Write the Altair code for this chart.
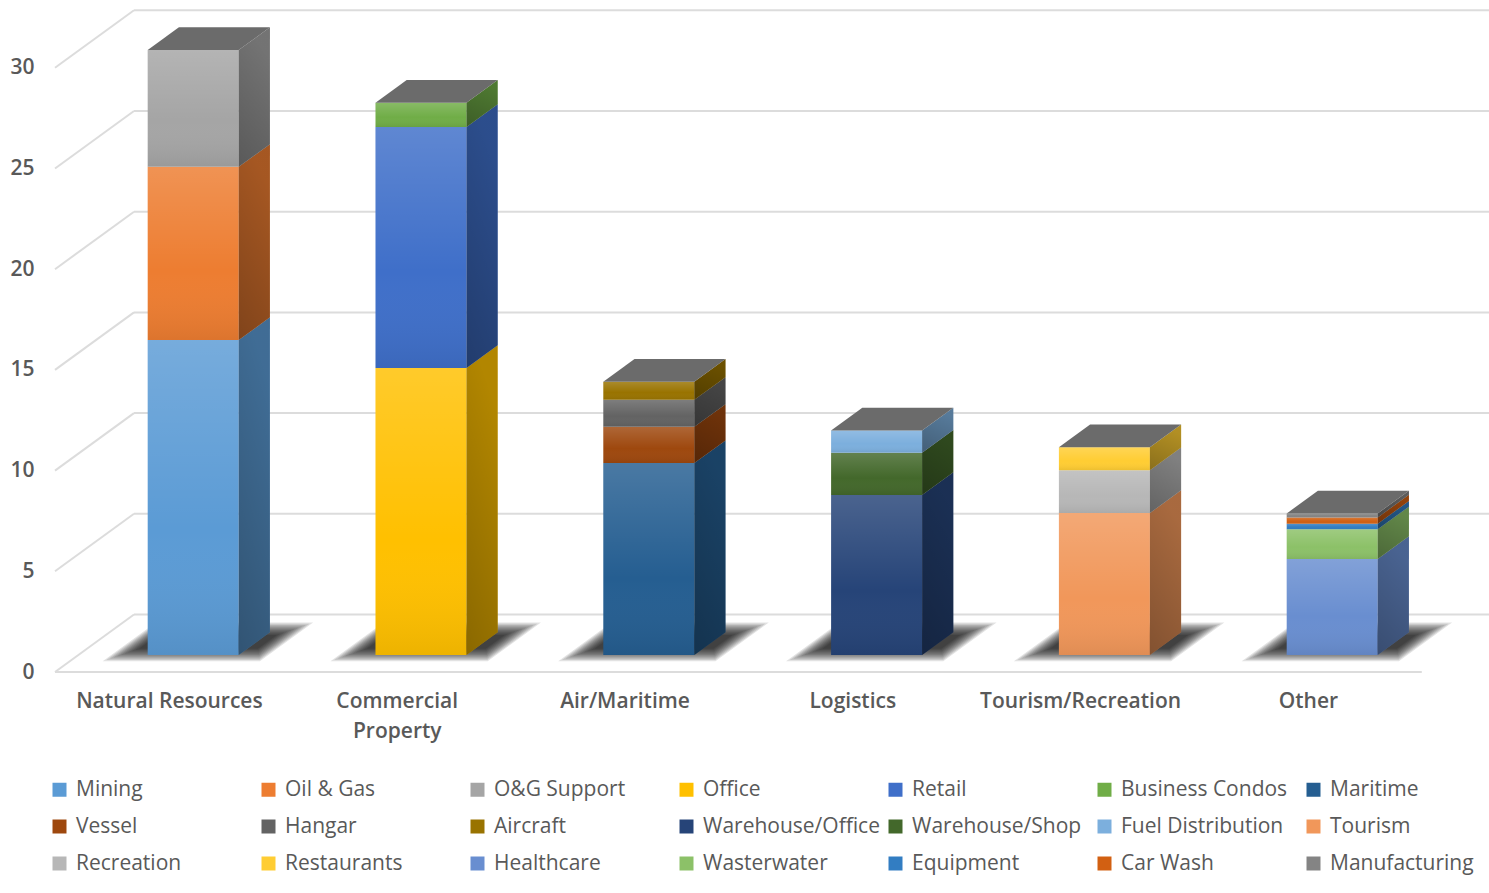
import altair as alt
import pandas as pd

categories = ["Natural Resources", "Commercial\nProperty", "Air/Maritime",
              "Logistics", "Tourism/Recreation", "Other"]

series_names = ["Mining", "Oil & Gas", "O&G Support", "Office", "Retail", "Business Condos",
                "Maritime", "Vessel", "Hangar", "Aircraft", "Warehouse/Office", "Warehouse/Shop",
                "Fuel Distribution", "Tourism", "Recreation", "Restaurants", "Healthcare",
                "Wasterwater", "Equipment", "Car Wash", "Manufacturing"]

series_colors = ["#5B9BD5", "#ED7D31", "#A5A5A5", "#FFC000", "#3F6FC9", "#70AD47",
                 "#255E91", "#9E480E", "#636363", "#997300", "#264478", "#43682B",
                 "#7CAFDD", "#F1975A", "#B7B7B7", "#FFCD33", "#698ED0",
                 "#8CC168", "#327DC2", "#D26012", "#848484"]

natural_resources = [("Mining", 15.64), ("Oil & Gas", 8.6), ("O&G Support", 5.8)]
commercial_property = [("Office", 14.25), ("Retail", 11.97), ("Business Condos", 1.2)]
air_maritime = [("Maritime", 9.53), ("Vessel", 1.8), ("Hangar", 1.34), ("Aircraft", 0.9)]
logistics = [("Warehouse/Office", 7.95), ("Warehouse/Shop", 2.1), ("Fuel Distribution", 1.1)]
tourism_recreation = [("Tourism", 7.05), ("Recreation", 2.13), ("Restaurants", 1.14)]
other = [("Healthcare", 4.77), ("Wasterwater", 1.47), ("Equipment", 0.28),
         ("Car Wash", 0.31), ("Manufacturing", 0.2)]
stacks = [natural_resources, commercial_property, air_maritime, logistics, tourism_recreation, other]

grid_values = [0, 5, 10, 15, 20, 25, 30]

# Pixel geometry of the plot and of the oblique projection used for the 3D look.
PLOT_W, PLOT_H = 1434, 672
PX_CAT, PX_VAL = 227.8, 20.14
DEPTH_X, DEPTH_Y = 79 / PX_CAT, 57.5 / PX_VAL
BAR_W = 91 / PX_CAT
BAR_LEFT = (1 - BAR_W) / 2 + 1 / PX_CAT
D_FRONT, D_BACK = 0.295, 0.69


def px(x, value, depth):
    return x + depth * DEPTH_X, value + depth * DEPTH_Y


front, side, top = [], [], []
for c, stack in enumerate(stacks):
    left = c + BAR_LEFT
    base = 0.0
    for name, value in stack:
        end = base + value
        x0, y0 = px(left + BAR_W, base, D_FRONT)
        x1, y1 = px(left + BAR_W, end, D_FRONT)
        bx, by0 = px(left + BAR_W, base, D_BACK)
        _, by1 = px(left + BAR_W, end, D_BACK)
        lx, _ = px(left, 0, D_FRONT)
        front.append(dict(series=name, x=lx, x2=x0, y=y0, y2=y1))
        key = f"{c}-{name}"
        side.append(dict(series=name, key=key, x=x0, y=y0, y2=y1))
        side.append(dict(series=name, key=key, x=bx, y=by0, y2=by1))
        base = end
    fx, fy = px(left, base, D_FRONT)
    bx, by = px(left, base, D_BACK)
    top.append(dict(key=c, y=fy, x=fx, x2=fx + BAR_W))
    top.append(dict(key=c, y=by, x=bx, x2=bx + BAR_W))

# Soft floor shadow: nested parallelograms at low opacity build up a fuzzy edge.
shadow = []
STEPS = 11
for c in range(len(stacks)):
    for k in range(STEPS):
        ix, iy = k * 1.9 / PX_CAT, k * 1.25 / 57.5
        for d in (0.185 + iy, 0.86 - iy):
            xl, yy = px(c + 0.145 + ix, 0, d)
            xr, _ = px(c + 0.835 - ix, 0, d)
            shadow.append(dict(key=f"{c}-{k}", y=yy, x=xl, x2=xr))

x_max = PLOT_W / PX_CAT
y_max = PLOT_H / PX_VAL
x_scale = alt.Scale(domain=[0, x_max], nice=False, zero=False)
y_scale = alt.Scale(domain=[0, y_max], nice=False, zero=False)

label_lookup = "{" + ",".join(f"'{i}.5':{c.split(chr(10))!r}" for i, c in enumerate(categories)) + "}"

GRID = "#dcdcdc"
FONT = "Open Sans"
TEXT = "#595959"

x_axis = alt.Axis(
    values=[i + 0.5 for i in range(len(categories))],
    labelExpr=f"{label_lookup}[format(datum.value, '.1f')]",
    domain=False, ticks=False, grid=False, labelFont=FONT, labelFontSize=21,
    labelFontWeight=600, labelColor=TEXT, labelPadding=18, labelLineHeight=30,
    labelFlush=False, labelOverlap=False, labelLimit=300, title=None)
y_axis = alt.Axis(
    values=grid_values, domain=False, ticks=False, grid=False, labelFont=FONT,
    labelFontSize=21, labelFontWeight=600, labelColor=TEXT, labelPadding=21,
    labelOverlap=False, format="d", title=None)

X = alt.X("x:Q", scale=x_scale, axis=x_axis, stack=None)
Y = alt.Y("y:Q", scale=y_scale, axis=y_axis, stack=None)

back_grid = pd.DataFrame([dict(y=v + DEPTH_Y, x=DEPTH_X, x2=x_max) for v in grid_values])
wall_grid = pd.DataFrame([r for v in grid_values
                          for r in (dict(key=v, x=0, y=v), dict(key=v, x=DEPTH_X, y=v + DEPTH_Y))])
floor_front = pd.DataFrame([dict(x=0, x2=len(categories), y=0)])

grid_layer = alt.Chart(back_grid).mark_rule(color=GRID, strokeWidth=2).encode(x=X, x2="x2:Q", y=Y)
wall_layer = alt.Chart(wall_grid).mark_line(color=GRID, strokeWidth=2).encode(x=X, y=Y, detail="key:N")
floor_layer = alt.Chart(floor_front).mark_rule(color=GRID, strokeWidth=2).encode(x=X, x2="x2:Q", y=Y)

shadow_layer = alt.Chart(pd.DataFrame(shadow)).mark_area(
    orient="horizontal", color="#000000", opacity=0.115, interpolate="linear"
).encode(y=Y, x=X, x2="x2:Q", detail="key:N")

color = alt.Color("series:N", scale=alt.Scale(domain=series_names, range=series_colors),
                  sort=series_names, title=None, legend=alt.Legend(
    orient="none", legendX=-6, legendY=779, columns=7, direction="horizontal", gridAlign="all",
    symbolType="square", symbolSize=196, symbolStrokeWidth=0, symbolOpacity=1, labelFont=FONT,
    labelFontSize=21, labelColor=TEXT, labelLimit=300, columnPadding=5, rowPadding=15,
    labelOffset=6, values=series_names))

front_df = pd.DataFrame(front)
front_layer = alt.Chart(front_df).mark_rect().encode(x=X, x2="x2:Q", y=Y, y2="y2:Q", color=color)

# Lighter at the top of each segment, slightly darker towards its base.
front_sheen = alt.Gradient(gradient="linear", x1=0, x2=0, y1=0, y2=1, stops=[
    alt.GradientStop(offset=0, color="rgba(255,255,255,0.17)"),
    alt.GradientStop(offset=0.6, color="rgba(255,255,255,0)"),
    alt.GradientStop(offset=1, color="rgba(0,0,0,0.07)"),
])
front_overlay = alt.Chart(front_df).mark_rect(color=front_sheen).encode(x=X, x2="x2:Q", y=Y, y2="y2:Q")

side_df = pd.DataFrame(side)
side_layer = alt.Chart(side_df).mark_area(interpolate="linear").encode(
    x=X, y=Y, y2="y2:Q", detail="key:N",
    color=alt.Color("series:N", scale=alt.Scale(domain=series_names, range=series_colors),
                    sort=series_names, title=None),
)
side_shade = alt.Gradient(gradient="linear", x1=0.3, x2=0, y1=0, y2=1, stops=[
    alt.GradientStop(offset=0, color="rgba(0,0,0,0.3)"),
    alt.GradientStop(offset=1, color="rgba(0,0,0,0.46)"),
])
side_overlay = alt.Chart(side_df).mark_area(color=side_shade, interpolate="linear").encode(
    x=X, y=Y, y2="y2:Q", detail="key:N")

top_layer = alt.Chart(pd.DataFrame(top)).mark_area(
    orient="horizontal", color="#6b6b6b", interpolate="linear"
).encode(y=Y, x=X, x2="x2:Q", detail="key:N")

chart = alt.layer(
    grid_layer, wall_layer, floor_layer, shadow_layer,
    front_layer, front_overlay, side_layer, side_overlay, top_layer,
).resolve_scale(color="shared").properties(
    width=PLOT_W, height=PLOT_H,
    padding={"left": 55, "top": 0, "right": 0, "bottom": 221},
    autosize=alt.AutoSizeParams(type="none"),
    background="white",
).configure_view(stroke=None)

chart.save("out.html", embed_options={"renderer": "svg", "actions": False})
